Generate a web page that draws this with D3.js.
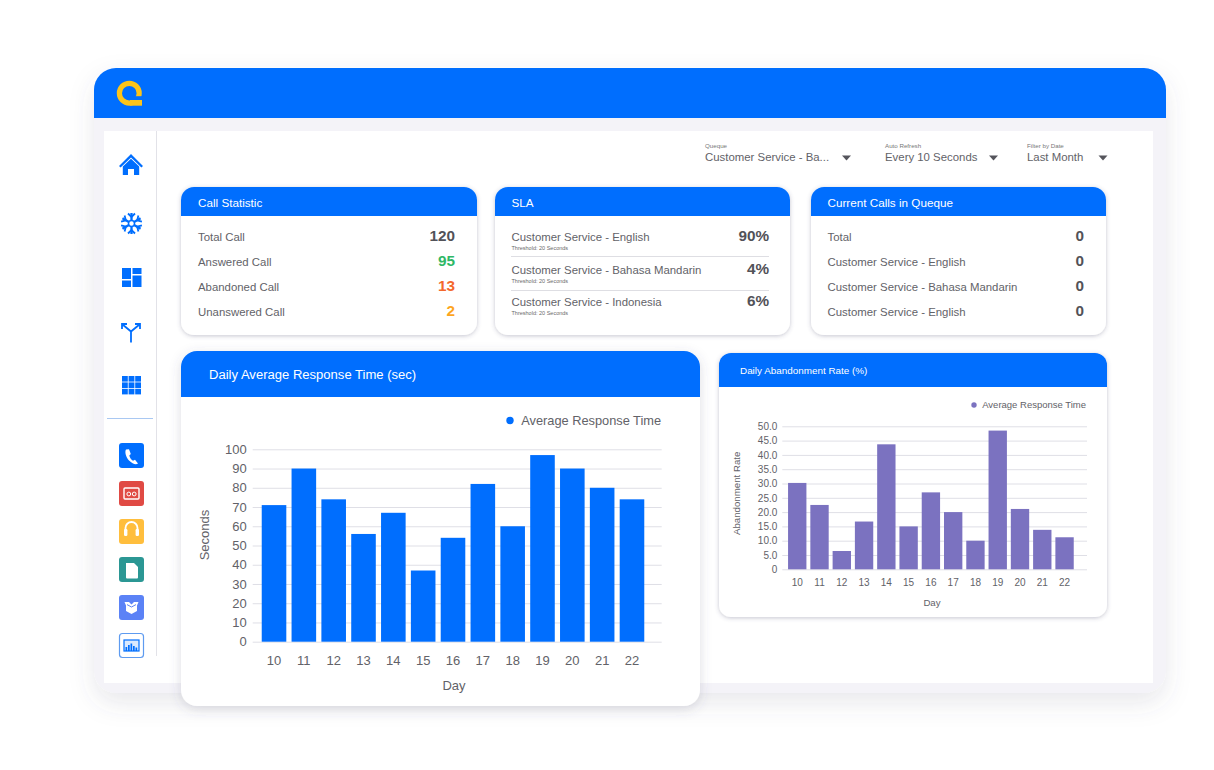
<!DOCTYPE html>
<html><head><meta charset="utf-8">
<script src="https://cdn.jsdelivr.net/npm/d3@7"></script>
<style>
html,body{margin:0;padding:0;background:#fff;overflow:hidden}
svg{display:block}
text{font-family:"Liberation Sans",Arial,sans-serif}
</style></head><body>
<script>
const days=["10","11","12","13","14","15","16","17","18","19","20","21","22"];
const responseTime=[71,90,74,56,67,37,54,82,60,97,90,80,74];
const abandonRate=[30.2,22.5,6.4,16.7,43.7,15,26.9,20,10,48.5,21.1,13.8,11.2];
const responseTicks=[0,10,20,30,40,50,60,70,80,90,100];
const abandonTicks=[0,5,10,15,20,25,30,35,40,45,50];
const callLabels=["Total Call","Answered Call","Abandoned Call","Unanswered Call"];
const callValues=["120","95","13","2"];
const slaLabels=["Customer Service - English","Customer Service - Bahasa Mandarin","Customer Service - Indonesia"];
const slaValues=["90%","4%","6%"];
const queueLabels=["Total","Customer Service - English","Customer Service - Bahasa Mandarin","Customer Service - English"];
const queueValues=["0","0","0","0"];
const filterLabels=["Queque","Auto Refresh","Filter by Date"];
const filterValues=["Customer Service - Ba...","Every 10 Seconds","Last Month"];

const BLUE="#006efe",PURPLE="#7b72c0",TXT="#626268",DARK="#525258",GRID="#dfdfe6";
const svg=d3.select("body").append("svg").attr("width",1214).attr("height",770);
const defs=svg.append("defs");
function shadow(id,dy,sd,op){
  const f=defs.append("filter").attr("id",id).attr("x","-15%").attr("y","-15%").attr("width","130%").attr("height","135%");
  f.append("feDropShadow").attr("dx",0).attr("dy",dy).attr("stdDeviation",sd).attr("flood-color","#50506e").attr("flood-opacity",op);
}
shadow("outer",10,12,.13);shadow("card",1,2,.32);shadow("big",3,6,.2);

function topRounded(x,y,w,h,r){
  return `M${x},${y+h}V${y+r}A${r},${r} 0 0 1 ${x+r},${y}H${x+w-r}A${r},${r} 0 0 1 ${x+w},${y+r}V${y+h}Z`;
}
function text(g,x,y,s,size,fill,anchor,weight){
  return g.append("text").attr("x",x).attr("y",y).text(s).attr("font-size",size).attr("fill",fill)
    .attr("text-anchor",anchor||"start").attr("font-weight",weight||"normal");
}

// outer frame
svg.append("rect").attr("x",94).attr("y",68).attr("width",1072).attr("height",625).attr("rx",22)
  .attr("fill","#f4f3f8").attr("filter","url(#outer)");
svg.append("path").attr("d",topRounded(94,68,1072,50,22)).attr("fill",BLUE);
svg.append("rect").attr("x",104).attr("y",131).attr("width",1049).attr("height",552).attr("fill","#fff");
svg.append("line").attr("x1",156.5).attr("x2",156.5).attr("y1",131).attr("y2",656).attr("stroke","#e2e2e8");
svg.append("line").attr("x1",107).attr("x2",153).attr("y1",418.5).attr("y2",418.5).attr("stroke","#a9c8f2");

// logo
const logo=svg.append("g");
logo.append("circle").attr("cx",129.3).attr("cy",93.2).attr("r",9.9).attr("fill","none").attr("stroke","#fcc419").attr("stroke-width",5.2);
logo.append("rect").attr("x",130).attr("y",96.2).attr("width",14).attr("height",3.8).attr("fill",BLUE);
logo.append("rect").attr("x",130).attr("y",100).attr("width",12).attr("height",5.7).attr("fill","#fcc419");

// sidebar glyphs
const s1=svg.append("g").attr("fill",BLUE);
s1.append("path").attr("d","M131,154L119,166L120.6,167.6L131,157.6L141.4,167.6L143,166Z");
s1.append("path").attr("d","M122.8,166.5L131,158.8L139.2,166.5V175H134V169H128V175H122.8Z");
const flake=svg.append("g").attr("transform","translate(131.5,223.5)").attr("stroke",BLUE).attr("stroke-width",2.3).attr("fill","none");
[0,60,120].forEach(a=>{
  flake.append("line").attr("transform",`rotate(${a})`).attr("y1",-10.5).attr("y2",10.5);
});
[0,60,120,180,240,300].forEach(a=>{
  flake.append("path").attr("transform",`rotate(${a})`).attr("d","M-3.5,-10L0,-6.5L3.5,-10").attr("stroke-width",1.8);
});
flake.append("circle").attr("r",3).attr("fill","#fff").attr("stroke-width",1.5);
const tiles=[[122,268,9,11],[132.5,268,9,6],[122,280.5,9,6.5],[132.5,275.5,9,11.5]];
svg.append("g").attr("fill",BLUE).selectAll("rect").data(tiles).join("rect")
  .attr("x",d=>d[0]).attr("y",d=>d[1]).attr("width",d=>d[2]).attr("height",d=>d[3]);
svg.append("path").attr("d","M131,342.5V331.5M131,331.5L122.5,324.5M131,331.5L139.5,324.5M122,329V324H127M140,329V324H135")
  .attr("fill","none").attr("stroke",BLUE).attr("stroke-width",1.8);
const grid9=svg.append("g").attr("fill",BLUE);
d3.range(3).forEach(r=>d3.range(3).forEach(c=>{
  grid9.append("rect").attr("x",122+c*6.6).attr("y",376+r*6.4).attr("width",5.8).attr("height",5.6);
}));

// sidebar buttons
const buttons=[["#006efe",443],["#e04a44",481],["#ffbe3d",519],["#2b9794",557],["#5b82f6",595]];
svg.append("g").selectAll("rect").data(buttons).join("rect")
  .attr("x",119).attr("y",d=>d[1]).attr("width",25).attr("height",25).attr("rx",3).attr("fill",d=>d[0]);
svg.append("rect").attr("x",119.5).attr("y",633.5).attr("width",24).attr("height",24).attr("rx",3)
  .attr("fill","#fff").attr("stroke","#5e9bf0").attr("stroke-width",1.2);
// phone
svg.append("path").attr("d","M126,449.5C124.5,452 126,457 129,460.5C132.5,464 136,465 138,463.5L135,459.8L133,460.8C131,459.5 129.8,457.5 129.3,455.5L130.8,454L129,449.2Z").attr("fill","#fff");
// tape
const tape=svg.append("g");
tape.append("rect").attr("x",124).attr("y",488).attr("width",15).attr("height",11).attr("rx",1).attr("fill","none").attr("stroke","#fff").attr("stroke-width",1.4);
tape.append("circle").attr("cx",128.8).attr("cy",494).attr("r",1.9).attr("fill","none").attr("stroke","#fff");
tape.append("circle").attr("cx",134.2).attr("cy",494).attr("r",1.9).attr("fill","none").attr("stroke","#fff");
// headset
svg.append("path").attr("d","M125.5,531V528A6,6 0 0 1 137.5,528V531").attr("fill","none").attr("stroke","#fff").attr("stroke-width",1.8);
svg.append("rect").attr("x",124).attr("y",529).attr("width",3.4).attr("height",7).attr("rx",1.2).attr("fill","#fff");
svg.append("rect").attr("x",135.6).attr("y",529).attr("width",3.4).attr("height",7).attr("rx",1.2).attr("fill","#fff");
// doc
svg.append("path").attr("d","M126,563H134L138,567V577.5A1,1 0 0 1 137,578.5H127A1,1 0 0 1 126,577.5Z").attr("fill","#fff");
// box
svg.append("path").attr("d","M124.5,602H129L131.5,604.5L134,602H138.5L137,605.5V611L131.5,614L126,611V605.5Z").attr("fill","#fff");
svg.append("path").attr("d","M127,604.6L131.5,607L136,604.6").attr("fill","none").attr("stroke","#5b82f6").attr("stroke-width",1);
// chart icon
const ci=svg.append("g");
ci.append("rect").attr("x",124).attr("y",640).attr("width",15).attr("height",11).attr("fill","#dbe9fd").attr("stroke",BLUE).attr("stroke-width",1.2);
ci.append("path").attr("d","M125.5,651V647H127.2V651Z M128,651V645H129.7V651Z M130.5,651V643.5H132.2V651Z M133,651V646H134.7V651Z M135.5,651V647.5H137.2V651Z").attr("fill",BLUE);

// filters
const fx=[705,885,1027],arrowX=[846.5,993.5,1103];
filterLabels.forEach((l,i)=>{
  text(svg,fx[i],148,l,6.2,"#777");
  text(svg,fx[i],161,filterValues[i],11.4,TXT);
  svg.append("path").attr("d",`M${arrowX[i]-4.5},155.5h9l-4.5,5z`).attr("fill","#55555c");
});

function card(x,y,w,h,hh,title,titleX,titleSize,filter,r){
  const g=svg.append("g");
  g.append("rect").attr("x",x).attr("y",y).attr("width",w).attr("height",h).attr("rx",r).attr("fill","#fff").attr("filter",`url(#${filter})`);
  g.append("path").attr("d",topRounded(x,y,w,hh,r)).attr("fill",BLUE);
  text(g,titleX,y+hh/2+titleSize*.36+.8,title,titleSize,"#fff");
  return g;
}

// Call Statistic
const rowY=[241,265.7,290.6,315.7];
const numY=[241,266,291,316];
const c1=card(181,187,296,148,29,"Call Statistic",198,11.7,"card",13);
callLabels.forEach((l,i)=>{
  text(c1,198,rowY[i],l,11.4,TXT);
  text(c1,455,numY[i],callValues[i],15.3,["#525258","#2fb866","#f4682c","#fda51e"][i],"end","bold");
});
// SLA
const c2=card(495,187,295,148,29,"SLA",511.5,11.7,"card",13);
const slaY=[241,274,306];
slaLabels.forEach((l,i)=>{
  text(c2,511.5,slaY[i],l,11.4,TXT);
  text(c2,769,slaY[i],slaValues[i],15.3,DARK,"end","bold");
  text(c2,511.5,slaY[i]+9,"Threshold: 20 Seconds",5.5,"#6a6a6a");
});
[256.5,290.5].forEach(y=>c2.append("line").attr("x1",511).attr("x2",769).attr("y1",y).attr("y2",y).attr("stroke","#dedee3"));
// Current calls
const c3=card(811,187,295,148,29,"Current Calls in Queque",827.5,11.7,"card",13);
queueLabels.forEach((l,i)=>{
  text(c3,827.5,rowY[i],l,11.4,TXT);
  text(c3,1084,numY[i],queueValues[i],15.3,DARK,"end","bold");
});

function barChart(o){
  const g=card(o.x,o.y,o.w,o.h,o.hh,o.title,o.titleX,o.titleSize,o.filter,o.r);
  const y=d3.scaleLinear().domain([0,o.max]).range([o.y0,o.y1]);
  const x=d3.scaleBand().domain(days).range(o.xr).paddingInner(.176).paddingOuter(.088);
  const yAxis=d3.axisLeft(y).tickValues(o.ticks).tickFormat(o.fmt).tickSize(-(o.gx1-o.gx0)).tickPadding(o.yPad);
  const ya=g.append("g").attr("transform",`translate(${o.gx0},0)`).call(yAxis);
  ya.select(".domain").remove();
  ya.selectAll("line").attr("stroke",GRID);
  ya.selectAll("text").attr("font-size",o.tick).attr("fill",TXT).attr("font-family",'"Liberation Sans",Arial,sans-serif');
  g.selectAll("rect.bar").data(o.values).join("rect").attr("class","bar")
    .attr("x",(d,i)=>x(days[i])).attr("width",x.bandwidth())
    .attr("y",d=>y(d)).attr("height",d=>y(0)-y(d)).attr("fill",o.color);
  const xa=g.append("g").attr("transform",`translate(0,${o.y0})`).call(d3.axisBottom(x).tickSize(0).tickPadding(o.xPad));
  xa.select(".domain").remove();
  xa.selectAll("text").attr("font-size",o.tick).attr("fill",TXT).attr("font-family",'"Liberation Sans",Arial,sans-serif');
  text(g,o.dayX,o.dayY,"Day",o.label,TXT,"middle");
  g.append("text").attr("transform",`translate(${o.yLabX},${(o.y0+o.y1)/2+o.yLabDy}) rotate(-90)`)
    .text(o.yLabel).attr("font-size",o.label).attr("fill",TXT).attr("text-anchor","middle");
  g.append("circle").attr("cx",o.legX).attr("cy",o.legY).attr("r",o.legR).attr("fill",o.color);
  text(g,o.legX+o.legR+o.legGap,o.legY+o.legSize*.36,"Average Response Time",o.legSize,TXT);
}

barChart({x:181,y:351,w:519,h:355,hh:46,r:16,title:"Daily Average Response Time (sec)",titleX:209,titleSize:13.05,filter:"big",
  values:responseTime,max:100,ticks:responseTicks,fmt:d3.format("d"),color:BLUE,
  y0:641.7,y1:449.3,xr:[259.1,646.9],gx0:252.7,gx1:661.7,tick:13,yPad:6,xPad:14,label:13,
  dayX:454,dayY:690,yLabel:"Seconds",yLabX:209,yLabDy:-10.5,legX:510,legY:420.5,legR:3.7,legGap:7.5,legSize:12.8});

barChart({x:719,y:353,w:388,h:264,hh:34,r:12,title:"Daily Abandonment Rate (%)",titleX:740,titleSize:9.9,filter:"card",
  values:abandonRate,max:50,ticks:abandonTicks,fmt:d=>d===0?"0":d3.format(".1f")(d),color:PURPLE,
  y0:569.3,y1:426.3,xr:[786.1,1075.7],gx0:782.3,gx1:1087,tick:10,yPad:5,xPad:10,label:9.7,
  dayX:932,dayY:606,yLabel:"Abandonment Rate",yLabX:740,yLabDy:-4.5,legX:974,legY:405,legR:2.7,legGap:5.5,legSize:9.5});
</script>
</body></html>
